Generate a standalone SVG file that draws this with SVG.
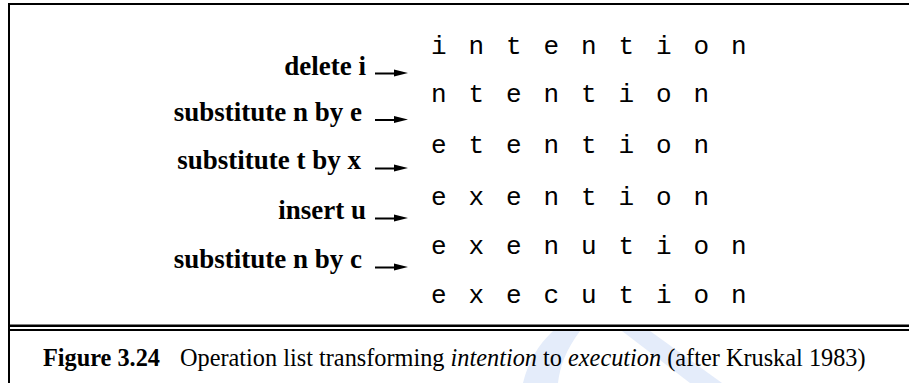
<svg xmlns="http://www.w3.org/2000/svg" width="909" height="383" viewBox="0 0 909 383">
<style>
.lbl{font-family:"Liberation Serif","Times New Roman",serif;font-weight:bold;font-size:27px;fill:#000;text-anchor:end}
.mono{font-family:"Liberation Mono","Courier New",monospace;font-size:26px;fill:#000;letter-spacing:21.9px}
.cap{font-family:"Liberation Serif","Times New Roman",serif;font-size:24.3px;fill:#000}
.wm{fill:#e4ecfa}
.shaft{stroke:#000;stroke-width:2;fill:none}
.head{fill:#000}
</style>
<rect width="909" height="383" fill="#fff"/>
<g id="watermark">
<path class="wm" d="M553,331 L580,331 C566,350 560,366 558,383 L523,383 C528,362 538,345 553,331 Z"/>
<path class="wm" d="M622,331 L650,331 L722,383 L690,383 Z"/>
</g>
<g id="frame">
<rect x="8" y="3" width="901" height="2" fill="#000"/>
<rect x="8" y="3" width="2" height="380" fill="#000"/>
<rect x="8" y="324.5" width="901" height="2.5" fill="#000"/>
<rect x="8" y="329" width="901" height="2" fill="#000"/>
</g>
<g id="word1"><text class="mono" x="431" y="54">intention</text></g>
<g id="word2"><text class="mono" x="431" y="102">ntention</text></g>
<g id="word3"><text class="mono" x="431" y="153">etention</text></g>
<g id="word4"><text class="mono" x="431" y="205">exention</text></g>
<g id="word5"><text class="mono" x="431" y="254">exenution</text></g>
<g id="word6"><text class="mono" x="431" y="303">execution</text></g>
<g id="op1"><text class="lbl" x="366" y="75">delete i</text></g>
<g id="op2"><text class="lbl" x="362" y="121">substitute n by e</text></g>
<g id="op3"><text class="lbl" x="361" y="169">substitute t by x</text></g>
<g id="op4"><text class="lbl" x="366" y="219">insert u</text></g>
<g id="op5"><text class="lbl" x="362" y="268">substitute n by c</text></g>
<g id="connectors">
<g transform="translate(0,73)"><line class="shaft" x1="375" y1="0.5" x2="396" y2="0.5"/><path class="head" d="M394,-3.5 L408,0 L394,3.5 Z"/></g>
<g transform="translate(0,119.5)"><line class="shaft" x1="375" y1="0.5" x2="396" y2="0.5"/><path class="head" d="M394,-3.5 L408,0 L394,3.5 Z"/></g>
<g transform="translate(0,168)"><line class="shaft" x1="375" y1="0.5" x2="396" y2="0.5"/><path class="head" d="M394,-3.5 L408,0 L394,3.5 Z"/></g>
<g transform="translate(0,218)"><line class="shaft" x1="375" y1="0.5" x2="396" y2="0.5"/><path class="head" d="M394,-3.5 L408,0 L394,3.5 Z"/></g>
<g transform="translate(0,267)"><line class="shaft" x1="375" y1="0.5" x2="396" y2="0.5"/><path class="head" d="M394,-3.5 L408,0 L394,3.5 Z"/></g>
</g>
<g id="caption">
<text class="cap" x="43" y="366" font-size="23.5" font-weight="bold">Figure 3.24</text>
<text class="cap" x="180" y="366">Operation list transforming <tspan font-style="italic">intention</tspan> to <tspan font-style="italic">execution</tspan> (after Kruskal 1983)</text>
</g>
</svg>
